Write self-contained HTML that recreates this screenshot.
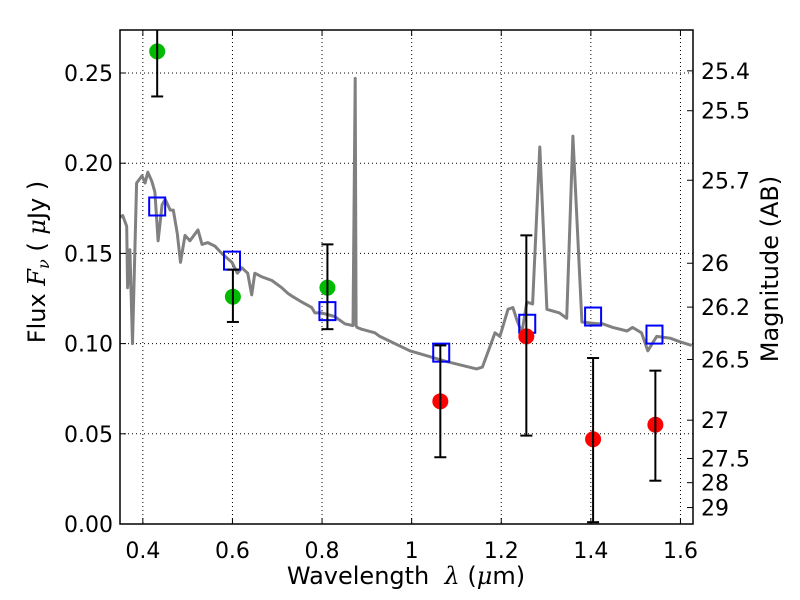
<!DOCTYPE html>
<html><head><meta charset="utf-8"><style>
body{margin:0;background:#fff;}
svg{display:block;font-family:"DejaVu Sans","Liberation Sans",sans-serif;}
</style></head><body>
<svg id="c" width="800" height="600" xmlns="http://www.w3.org/2000/svg"></svg>
<script>
const specLam=[0.350,0.355,0.364,0.366,0.371,0.377,0.386,0.398,0.405,0.411,0.420,0.427,0.434,0.443,0.450,0.461,0.468,0.477,0.484,0.494,0.505,0.523,0.532,0.545,0.561,0.576,0.599,0.611,0.621,0.634,0.643,0.650,0.666,0.688,0.710,0.723,0.735,0.755,0.777,0.784,0.799,0.828,0.851,0.869,0.874,0.876,0.878,0.888,0.918,0.929,0.996,1.078,1.145,1.158,1.186,1.197,1.215,1.226,1.235,1.246,1.257,1.270,1.286,1.302,1.330,1.346,1.360,1.380,1.413,1.426,1.449,1.481,1.493,1.513,1.527,1.547,1.577,1.599,1.625];
const specFlux=[0.170,0.171,0.165,0.131,0.152,0.100,0.189,0.193,0.189,0.195,0.190,0.184,0.157,0.177,0.180,0.174,0.174,0.161,0.145,0.160,0.157,0.163,0.155,0.156,0.154,0.150,0.145,0.139,0.142,0.139,0.127,0.139,0.137,0.135,0.131,0.128,0.126,0.123,0.120,0.117,0.117,0.115,0.111,0.110,0.247,0.110,0.109,0.108,0.106,0.104,0.096,0.090,0.086,0.087,0.106,0.104,0.119,0.120,0.113,0.106,0.123,0.122,0.209,0.119,0.117,0.114,0.215,0.112,0.111,0.111,0.109,0.107,0.109,0.106,0.096,0.104,0.103,0.101,0.099];
const greenLam=[0.432,0.601,0.812];
const greenFlux=[0.262,0.126,0.131];
const greenLo=[0.237,0.112,0.108];
const greenHi=[0.29,0.141,0.155];
const redLam=[1.064,1.256,1.405,1.544];
const redFlux=[0.068,0.104,0.047,0.055];
const redLo=[0.037,0.049,0.001,0.024];
const redHi=[0.099,0.160,0.092,0.085];
const modelLam=[0.432,0.599,0.812,1.066,1.258,1.405,1.542];
const modelFlux=[0.176,0.146,0.118,0.095,0.111,0.115,0.105];
const xTicks=[0.4,0.6,0.8,1.0,1.2,1.4,1.6];
const xTickLabels=["0.4","0.6","0.8","1","1.2","1.4","1.6"];
const yTicks=[0,0.05,0.10,0.15,0.20,0.25];
const yTickLabels=["0.00","0.05","0.10","0.15","0.20","0.25"];
const magTicks=[25.4,25.5,25.7,26,26.2,26.5,27,27.5,28,29];
const magLabels=["25.4","25.5","25.7","26","26.2","26.5","27","27.5","28","29"];

const L=120,R=693,T=30,B=524;
const xmin=0.349,xmax=1.628;
const ymin=0,ymax=(B-T)/1804;
const X=v=>L+(v-xmin)/(xmax-xmin)*(R-L);
const Y=v=>B-(v-ymin)/(ymax-ymin)*(B-T);
const NS="http://www.w3.org/2000/svg";
const svg=document.getElementById('c');
function mk(tag,attrs,parent){const e=document.createElementNS(NS,tag);for(const k in attrs)e.setAttribute(k,attrs[k]);(parent||svg).appendChild(e);return e;}

const defs=mk('defs',{});
const cp=mk('clipPath',{id:'clip'},defs);
mk('rect',{x:L,y:T,width:R-L,height:B-T},cp);

const grid=mk('g',{});


xTicks.forEach(t=>mk('line',{x1:X(t),x2:X(t),y1:T,y2:B,stroke:'#000','stroke-width':1,'stroke-dasharray':'1,3'},grid));
yTicks.forEach(t=>mk('line',{x1:L,x2:R,y1:Y(t),y2:Y(t),stroke:'#000','stroke-width':1,'stroke-dasharray':'1,3'},grid));

const plot=mk('g',{'clip-path':'url(#clip)'});
let d='';specLam.forEach((l,i)=>{d+=(i?'L':'M')+X(l).toFixed(1)+','+Y(specFlux[i]).toFixed(1);});
const sp=mk('path',{d:d,fill:'none',stroke:'#808080','stroke-width':3,'stroke-linejoin':'round'},plot);



modelLam.forEach((l,i)=>{
  const r=mk('rect',{x:X(l)-8,y:Y(modelFlux[i])-9,width:16,height:18,fill:'none',stroke:'#0000ff','stroke-width':2},plot);
  
  
});
function pts(lams,fl,lo,hi,col,name){
  lams.forEach((l,i)=>{
    const g=mk('g',{},plot);
    
    
    const x=X(l);
    mk('circle',{cx:x,cy:Y(fl[i]),r:8,fill:col},g);
    mk('line',{x1:x,x2:x,y1:Y(lo[i]),y2:Y(hi[i]),stroke:'#000','stroke-width':2},g);
    mk('line',{x1:x-6,x2:x+6,y1:Y(lo[i]),y2:Y(lo[i]),stroke:'#000','stroke-width':2},g);
    mk('line',{x1:x-6,x2:x+6,y1:Y(hi[i]),y2:Y(hi[i]),stroke:'#000','stroke-width':2},g);
  });
}
pts(greenLam,greenFlux,greenLo,greenHi,'#00bb00','detection-point');
pts(redLam,redFlux,redLo,redHi,'#ff0000','faint-point');

const fr=mk('rect',{x:L,y:T,width:R-L,height:B-T,fill:'none',stroke:'#000','stroke-width':1.5});



xTicks.forEach((t,i)=>{
  mk('line',{x1:X(t),x2:X(t),y1:B,y2:B-6,stroke:'#000'});
  mk('line',{x1:X(t),x2:X(t),y1:T,y2:T+6,stroke:'#000'});
  const tx=mk('text',{x:X(t),y:B+34,'font-size':22,'text-anchor':'middle'});
  tx.textContent=xTickLabels[i];
  
  
});
yTicks.forEach((t,i)=>{
  mk('line',{x1:L,x2:L+6,y1:Y(t),y2:Y(t),stroke:'#000'});
  const tx=mk('text',{x:113,y:Y(t)+8,'font-size':22,'text-anchor':'end'});
  tx.textContent=yTickLabels[i];
  
  
});
magTicks.forEach((m,i)=>{
  const f=Math.pow(10,(23.9-m)/2.5);
  const y=Y(f);
  mk('line',{x1:R,x2:R-6,y1:y,y2:y,stroke:'#000'});
  const tx=mk('text',{x:701,y:y+8,'font-size':22});
  tx.textContent=magLabels[i];
  
  
});
</script>
<svg width="800" height="600" style="position:absolute;left:0;top:0" xmlns="http://www.w3.org/2000/svg">
<text x="406" y="584" font-size="24" text-anchor="middle" font-family="DejaVu Sans, sans-serif" xml:space="preserve">Wavelength  <tspan font-family="DejaVu Serif, serif" font-style="italic">λ</tspan> (<tspan font-family="DejaVu Serif, serif" font-style="italic">μ</tspan>m)</text>
<text transform="translate(45,262) rotate(-90)" font-size="24" text-anchor="middle" font-family="DejaVu Sans, sans-serif" xml:space="preserve">Flux <tspan font-family="DejaVu Serif, serif" font-style="italic">F</tspan><tspan font-family="DejaVu Serif, serif" font-style="italic" font-size="16" dy="4">ν</tspan><tspan dy="-4"> ( </tspan><tspan font-family="DejaVu Serif, serif" font-style="italic">μ</tspan>Jy )</text>
<text transform="translate(778,269) rotate(-90)" font-size="24" text-anchor="middle" font-family="DejaVu Sans, sans-serif">Magnitude (AB)</text>
</svg>
</body></html>
